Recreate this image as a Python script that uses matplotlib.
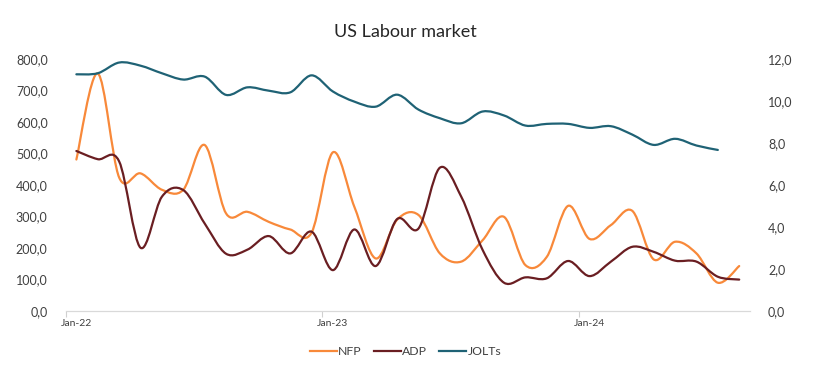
import matplotlib.pyplot as plt
import numpy as np
from matplotlib.path import Path
from matplotlib.patches import PathPatch
from matplotlib.lines import Line2D
from matplotlib.ticker import FuncFormatter

plt.rcParams['font.family'] = ['Lato', 'DejaVu Sans']

months = ['Jan-22', 'Feb-22', 'Mar-22', 'Apr-22', 'May-22', 'Jun-22', 'Jul-22', 'Aug-22',
          'Sep-22', 'Oct-22', 'Nov-22', 'Dec-22', 'Jan-23', 'Feb-23', 'Mar-23', 'Apr-23',
          'May-23', 'Jun-23', 'Jul-23', 'Aug-23', 'Sep-23', 'Oct-23', 'Nov-23', 'Dec-23',
          'Jan-24', 'Feb-24', 'Mar-24', 'Apr-24', 'May-24', 'Jun-24', 'Jul-24', 'Aug-24']

nfp = [481, 754, 424, 437, 385, 385, 527, 310, 315, 283, 259, 249,
       504, 331, 167, 290, 305, 183, 157, 225, 299, 146, 172, 334,
       229, 273, 318, 164, 220, 183, 90, 143]
adp = [508, 482, 475, 201, 363, 384, 278, 182, 195, 238, 183, 252,
       130, 259, 143, 292, 262, 455, 363, 194, 90, 107, 104, 159,
       111, 157, 204, 188, 160, 157, 109, 100]
jolts = [11.27, 11.32, 11.83, 11.68, 11.32, 11.02, 11.16, 10.29, 10.65, 10.49, 10.41, 11.22,
         10.45, 9.97, 9.73, 10.30, 9.59, 9.18, 8.94, 9.50, 9.31, 8.83, 8.91, 8.91,
         8.72, 8.80, 8.40, 7.91, 8.20, 7.88, 7.67]

c_nfp = '#F8893A'
c_adp = '#6A1E22'
c_jolts = '#1F6275'


def smooth(ax, y, color):
    # excel-like smoothed line: cubic bezier through each point
    x = np.arange(len(y)) + 0.5
    y = np.asarray(y, dtype=float)
    n = len(y)
    verts = [(x[0], y[0])]
    codes = [Path.MOVETO]
    for i in range(n - 1):
        a = max(i - 1, 0)
        b = min(i + 2, n - 1)
        c1 = (x[i] + (x[i + 1] - x[a]) / 6, y[i] + (y[i + 1] - y[a]) / 6)
        c2 = (x[i + 1] - (x[b] - x[i]) / 6, y[i + 1] - (y[b] - y[i]) / 6)
        verts += [c1, c2, (x[i + 1], y[i + 1])]
        codes += [Path.CURVE4] * 3
    ax.add_patch(PathPatch(Path(verts, codes), facecolor='none', edgecolor=color,
                           lw=1.6, capstyle='round', joinstyle='round'))


fig = plt.figure(figsize=(8.16, 3.78), dpi=100)
ax = fig.add_axes([0.0805, 0.177, 0.8385, 0.667])
ax2 = ax.twinx()

smooth(ax, nfp, c_nfp)
smooth(ax, adp, c_adp)
smooth(ax2, jolts, c_jolts)

ax.set_xlim(0, len(months))
ax.set_ylim(0, 800)
ax2.set_ylim(0, 12)
ax.set_yticks(np.arange(0, 801, 100))
ax2.set_yticks(np.arange(0, 12.1, 2))
fmt = FuncFormatter(lambda v, p: ('%.1f' % v).replace('.', ','))
ax.yaxis.set_major_formatter(fmt)
ax2.yaxis.set_major_formatter(fmt)

lab_pos = [0.5, 12.5, 24.5]
ax.set_xticks(lab_pos)
ax.set_xticklabels([months[0], months[12], months[24]])
ax.set_xticks([0, 12, 24], minor=True)
ax.tick_params(axis='x', which='major', length=0, pad=6, labelsize=7.5, labelcolor='#404040')
ax.tick_params(axis='x', which='minor', length=4, color='#d0d0d0', width=0.8)
ax.tick_params(axis='y', length=0, pad=13, labelsize=9, labelcolor='#404040')
ax2.tick_params(axis='y', length=0, pad=13, labelsize=9, labelcolor='#404040')

for a in (ax, ax2):
    for s in ['top', 'left', 'right']:
        a.spines[s].set_visible(False)
    a.spines['bottom'].set_color('#d9d9d9')

fig.text(0.497, 0.915, 'US Labour market', ha='center', va='center', fontsize=13, color='#262626')

handles = [Line2D([], [], color=c_nfp, lw=1.6),
           Line2D([], [], color=c_adp, lw=1.6),
           Line2D([], [], color=c_jolts, lw=1.6)]
fig.legend(handles, ['NFP', 'ADP', 'JOLTs'], loc='center', bbox_to_anchor=(0.497, 0.069),
           ncol=3, frameon=False, fontsize=8.8, handlelength=2.2, handletextpad=0.1,
           columnspacing=1.0, labelcolor='#404040')

plt.savefig('out.png', dpi=100)
